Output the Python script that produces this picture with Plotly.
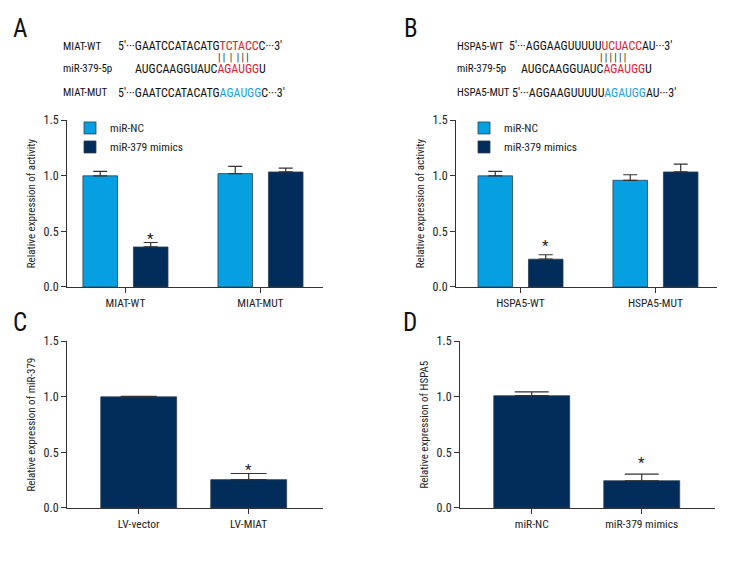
import plotly.graph_objects as go

# ---------------- data ----------------
A_categories = ["MIAT-WT", "MIAT-MUT"]
A_nc = [1.00, 1.02]
A_nc_err = [0.04, 0.065]
A_mimics = [0.36, 1.035]
A_mimics_err = [0.04, 0.035]

B_categories = ["HSPA5-WT", "HSPA5-MUT"]
B_nc = [1.00, 0.96]
B_nc_err = [0.04, 0.05]
B_mimics = [0.25, 1.035]
B_mimics_err = [0.04, 0.07]

C_categories = ["LV-vector", "LV-MIAT"]
C_values = [1.00, 0.255]
C_err = [0.005, 0.055]

D_categories = ["miR-NC", "miR-379 mimics"]
D_values = [1.01, 0.245]
D_err = [0.035, 0.06]

y_ticks = [0.0, 0.5, 1.0, 1.5]
y_ticklabels = ["0.0", "0.5", "1.0", "1.5"]

series_names = ["miR-NC", "miR-379 mimics"]

# ---------------- style ----------------
FONT = "Roboto Condensed, DejaVu Sans Condensed, sans-serif"
LIGHT = "#069fe1"
DARK = "#022d5a"
OUTLINE = "#2f3f52"
ERRC = "#333333"
RED = "#e2202c"
BLUE = "#1da0dc"

# page body has an 8px default margin: the figure is sized to fit the window
OFF = 8
W, H = 744 - OFF, 564 - OFF


def px_x(p):
    return (p - OFF) / W


def px_y(p):
    return 1 - (p - OFF) / H


def dx(a, b):
    return [px_x(a), px_x(b)]


def dy(top, bottom):
    return [px_y(bottom), px_y(top)]


fig = go.Figure()


def err(arr, w):
    return dict(type="data", symmetric=False, array=arr, arrayminus=[0] * len(arr),
                color=ERRC, thickness=1.2, width=w)


# Panel A
fig.add_trace(go.Bar(x=A_categories, y=A_nc, name=series_names[0], marker_color=LIGHT,
                     marker_line=dict(color=OUTLINE, width=0.8), width=0.256, offset=-0.315,
                     error_y=err(A_nc_err, 7), xaxis="x", yaxis="y", legend="legend"))
fig.add_trace(go.Bar(x=A_categories, y=A_mimics, name=series_names[1], marker_color=DARK,
                     marker_line=dict(color=OUTLINE, width=0.8), width=0.256, offset=0.059,
                     error_y=err(A_mimics_err, 7), xaxis="x", yaxis="y", legend="legend"))
# Panel B
fig.add_trace(go.Bar(x=B_categories, y=B_nc, name=series_names[0], marker_color=LIGHT,
                     marker_line=dict(color=OUTLINE, width=0.8), width=0.256, offset=-0.315,
                     error_y=err(B_nc_err, 7), xaxis="x2", yaxis="y2", legend="legend2"))
fig.add_trace(go.Bar(x=B_categories, y=B_mimics, name=series_names[1], marker_color=DARK,
                     marker_line=dict(color=OUTLINE, width=0.8), width=0.256, offset=0.059,
                     error_y=err(B_mimics_err, 7), xaxis="x2", yaxis="y2", legend="legend2"))
# Panel C
fig.add_trace(go.Bar(x=C_categories, y=C_values, marker_color=DARK, showlegend=False,
                     marker_line=dict(color=OUTLINE, width=0.8), width=0.69,
                     error_y=err(C_err, 18), xaxis="x3", yaxis="y3"))
# Panel D
fig.add_trace(go.Bar(x=D_categories, y=D_values, marker_color=DARK, showlegend=False,
                     marker_line=dict(color=OUTLINE, width=0.8), width=0.69,
                     error_y=err(D_err, 17), xaxis="x4", yaxis="y4"))

axis_common = dict(showline=True, linecolor="#333333", linewidth=1, ticks="outside",
                   ticklen=5, tickcolor="#333333", showgrid=False, zeroline=False)

xa = dict(axis_common, type="category", fixedrange=True,
          tickfont=dict(family=FONT, size=11.5, color="#222222"))
ya = dict(axis_common, range=[0, 1.5], tickvals=y_ticks, ticktext=y_ticklabels,
          tickfont=dict(family=FONT, size=12, color="#222222"))
ytitle_font = dict(family=FONT, size=11, color="#222222")

layout = dict(
    width=W, height=H, margin=dict(l=0, r=0, t=0, b=0),
    paper_bgcolor="white", plot_bgcolor="white", barmode="overlay",
    font=dict(family=FONT, size=12, color="#222222"),
    xaxis=dict(xa, domain=dx(67, 323), range=[-0.433, 1.463], anchor="y"),
    yaxis=dict(ya, domain=dy(116, 287), anchor="x",
               title=dict(text="Relative expression of activity", font=ytitle_font, standoff=5)),
    xaxis2=dict(xa, domain=dx(456, 717), range=[-0.478, 1.456], anchor="y2"),
    yaxis2=dict(ya, domain=dy(116, 287), anchor="x2",
                title=dict(text="Relative expression of activity", font=ytitle_font, standoff=5)),
    xaxis3=dict(xa, domain=dx(67, 322.7), range=[-0.652, 1.673], anchor="y3"),
    yaxis3=dict(ya, domain=dy(342.7, 513.7), anchor="x3",
                title=dict(text="Relative expression of miR-379", font=ytitle_font, standoff=5)),
    xaxis4=dict(xa, domain=dx(460, 715), range=[-0.652, 1.666], anchor="y4"),
    yaxis4=dict(ya, domain=dy(342.7, 513.7), anchor="x4",
                title=dict(text="Relative expression of HSPA5", font=ytitle_font, standoff=5)),
    legend=dict(x=62 / W, y=1 - 101 / H, xanchor="left", yanchor="top", bgcolor="rgba(0,0,0,0)",
                font=dict(family=FONT, size=11.5), tracegroupgap=0, itemwidth=30),
    legend2=dict(x=456 / W, y=1 - 101 / H, xanchor="left", yanchor="top", bgcolor="rgba(0,0,0,0)",
                 font=dict(family=FONT, size=11.5), tracegroupgap=0, itemwidth=30),
)
fig.update_layout(**layout)

ann = []
# asterisks (data coordinates)
star_y = {"A": 0.447, "B": 0.386, "C": 0.36, "D": 0.427}
for xr, yr, xpos, key in [("x", "y", 0.187, "A"), ("x2", "y2", 0.187, "B"), ("x3", "y3", 1, "C"), ("x4", "y4", 1, "D")]:
    ann.append(dict(x=xpos, y=star_y[key], xref=xr, yref=yr, text="*", showarrow=False, yshift=-2,
                    font=dict(family=FONT, size=15, color="#222222")))

# panel letters
for letter, px, py in [("A", 11, 22), ("B", 402, 22), ("C", 11, 323), ("D", 401, 323)]:
    ann.append(dict(x=px_x(px), y=px_y(py), xref="paper", yref="paper", text=letter, showarrow=False,
                    xanchor="left", yanchor="middle", font=dict(family=FONT, size=25, color="#111111")))


def red(s):
    return f'<span style="color:{RED}">{s}</span>'


def blue(s):
    return f'<span style="color:{BLUE}">{s}</span>'


label_rows = [
    ("MIAT-WT", 61, 40), ("miR-379-5p", 61, 63), ("MIAT-MUT", 61, 88),
    ("HSPA5-WT", 455, 40), ("miR-379-5p", 455, 63), ("HSPA5-MUT", 455, 88),
]
seq_rows = [
    ("5′···GAATCCATACATG" + red("TCTACC") + "C···3′", 116, 40),
    ("AUGCAAGGUAUC" + red("AGAUGG") + "U", 133, 63),
    ("5′···GAATCCATACATG" + blue("AGAUGG") + "C···3′", 116, 88),
    ("5′···AGGAAGUUUUU" + red("UCUACC") + "AU···3′", 507, 40),
    ("AUGCAAGGUAUC" + red("AGAUGG") + "U", 519, 63),
    ("5′···AGGAAGUUUUU" + blue("AGAUGG") + "AU···3′", 510, 88),
]
pipe_rows = [("| |  |  | | |", 216, 52), ("| | | | | |", 598, 52)]

for text, px, py in label_rows:
    ann.append(dict(x=px_x(px), y=px_y(py), xref="paper", yref="paper", text=text, showarrow=False,
                    xanchor="left", yanchor="middle", font=dict(family=FONT, size=11, color="#111111")))
for text, px, py in seq_rows:
    ann.append(dict(x=px_x(px), y=px_y(py), xref="paper", yref="paper", text=text, showarrow=False,
                    xanchor="left", yanchor="middle", font=dict(family=FONT, size=12, color="#111111")))
for text, px, py in pipe_rows:
    ann.append(dict(x=px_x(px), y=px_y(py), xref="paper", yref="paper", text=text, showarrow=False,
                    xanchor="left", yanchor="middle", font=dict(family=FONT, size=10, color="#222222")))

fig.update_layout(annotations=ann)

fig.write_html("out.html")
